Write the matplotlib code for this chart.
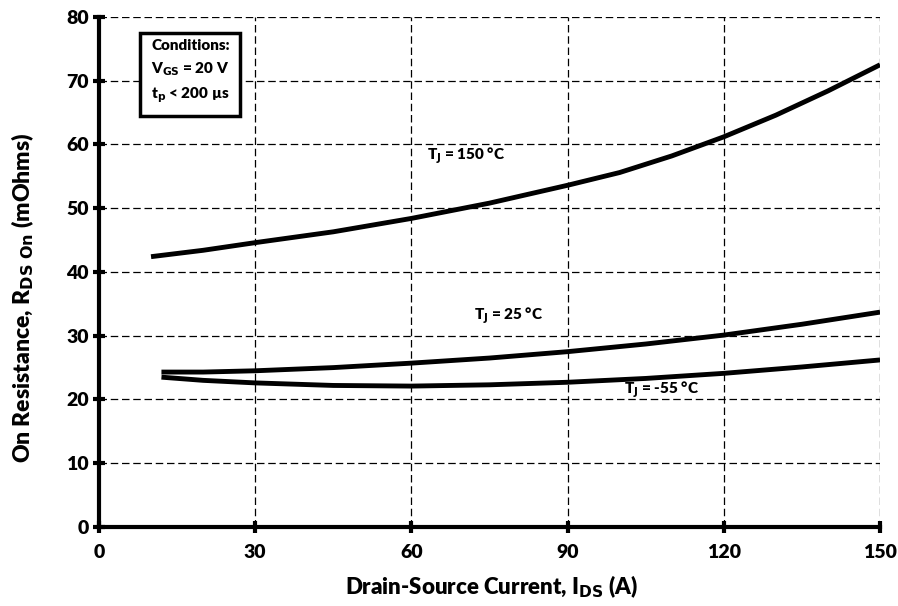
import matplotlib
matplotlib.use("Agg")
import matplotlib.pyplot as plt
import numpy as np

plt.rcParams['font.family'] = ['Lato', 'DejaVu Sans']
plt.rcParams['font.weight'] = 'bold'
plt.rcParams['mathtext.default'] = 'bf'

# Data
x_150 = [10, 20, 30, 45, 60, 75, 90, 100, 110, 120, 130, 140, 150]
y_150 = [42.4, 43.4, 44.6, 46.3, 48.4, 50.8, 53.6, 55.6, 58.2, 61.2, 64.6, 68.4, 72.5]
x_25 = [12, 20, 30, 45, 60, 75, 90, 105, 120, 135, 150]
y_25 = [24.3, 24.3, 24.5, 25.0, 25.7, 26.5, 27.5, 28.7, 30.1, 31.8, 33.7]
x_m55 = [12, 20, 30, 45, 60, 75, 90, 105, 120, 135, 150]
y_m55 = [23.5, 23.0, 22.6, 22.2, 22.1, 22.3, 22.7, 23.3, 24.1, 25.1, 26.2]
x_ticks = [0, 30, 60, 90, 120, 150]
y_ticks = [0, 10, 20, 30, 40, 50, 60, 70, 80]

fig = plt.figure(figsize=(8.98, 6.06), dpi=100)
ax = fig.add_axes([0.1102, 0.1304, 0.980 - 0.1102, 0.972 - 0.1304])

for xs, ys in [(x_150, y_150), (x_25, y_25), (x_m55, y_m55)]:
    ax.plot(xs, ys, color='black', lw=3.5, solid_capstyle='butt', solid_joinstyle='round')

ax.set_xlim(0, 150)
ax.set_ylim(0, 80)
ax.set_xticks(x_ticks)
ax.set_yticks(y_ticks)
ax.grid(True, color='black', ls=(0, (6, 3)), lw=0.9)
for s in ['top', 'right']:
    ax.spines[s].set_visible(False)
for s in ['left', 'bottom']:
    ax.spines[s].set_linewidth(3)
ax.tick_params(axis='both', direction='inout', length=8, width=3, labelsize=14)
ax.tick_params(axis='x', pad=8)
for lab in ax.get_xticklabels() + ax.get_yticklabels():
    lab.set_fontweight('heavy')

ax.set_xlabel(r'Drain-Source Current, I$_{\mathbf{DS}}$ (A)', fontsize=16, fontweight='heavy')
ax.set_ylabel(r'On Resistance, R$_{\mathbf{DS\ On}}$ (mOhms)', fontsize=16.5, fontweight='heavy')
ax.xaxis.set_label_coords(0.502, -0.092)
ax.yaxis.set_label_coords(-0.080, 0.45)

ax.text(70.5, 58.2, r'T$_{\mathbf{J}}$ = 150 °C', ha='center', va='center', fontsize=11, fontweight='heavy')
ax.text(78.7, 33.1, r'T$_{\mathbf{J}}$ = 25 °C', ha='center', va='center', fontsize=11, fontweight='heavy')
ax.text(108, 21.5, r'T$_{\mathbf{J}}$ = -55 °C', ha='center', va='center', fontsize=11, fontweight='heavy')

ax.text(10, 76.5, 'Conditions:\n' + r'V$_{\mathbf{GS}}$ = 20 V' + '\n' + r't$_{\mathbf{p}}$ < 200 µs',
        ha='left', va='top', fontsize=11, fontweight='heavy', linespacing=1.6,
        bbox=dict(boxstyle='square,pad=0.7', fc='white', ec='black', lw=2.5))

fig.savefig('out.png', dpi=100)
